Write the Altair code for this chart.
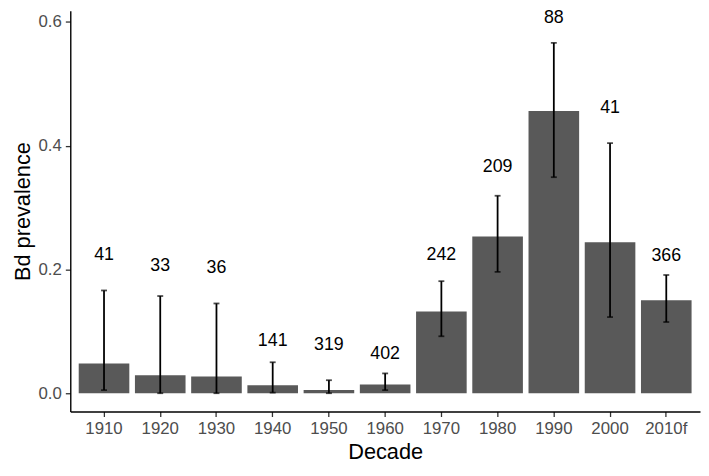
import altair as alt
import pandas as pd

decades = ["1910", "1920", "1930", "1940", "1950", "1960", "1970", "1980", "1990", "2000", "2010f"]
prevalence = [0.048, 0.029, 0.027, 0.013, 0.005, 0.014, 0.132, 0.253, 0.456, 0.244, 0.150]
ci_lower = [0.005, 0.0, 0.0, 0.001, 0.0, 0.005, 0.092, 0.196, 0.349, 0.123, 0.115]
ci_upper = [0.166, 0.157, 0.145, 0.050, 0.021, 0.032, 0.181, 0.319, 0.566, 0.404, 0.191]
n_samples = [41, 33, 36, 141, 319, 402, 242, 209, 88, 41, 366]
label_y = [0.2225, 0.205, 0.2025, 0.084, 0.077, 0.064, 0.2236, 0.366, 0.606, 0.46, 0.221]

df = pd.DataFrame({
    "Decade": decades,
    "prev": prevalence,
    "lo": ci_lower,
    "hi": ci_upper,
    "n": n_samples,
    "ly": label_y,
})

FONT = "Liberation Sans"

x = alt.X(
    "Decade:N",
    sort=decades,
    title="Decade",
    scale=alt.Scale(paddingInner=0.1, paddingOuter=0.15),
    axis=alt.Axis(
        labelAngle=0, labelFontSize=17, labelColor="#4d4d4d", labelFont=FONT,
        labelPadding=4, tickSize=5, tickColor="#333333", tickWidth=1.3,
        domainColor="#000000", domainWidth=1.4,
        titleFontSize=22, titleFont=FONT, titleColor="#000000",
        titleFontWeight="normal", titlePadding=5,
    ),
)

yscale = alt.Scale(domain=[-0.0296, 0.618], nice=False, zero=False)
yaxis = alt.Axis(
    values=[0, 0.2, 0.4, 0.6], format=".1f", grid=False,
    labelFontSize=17, labelColor="#4d4d4d", labelFont=FONT, labelPadding=4,
    tickSize=5, tickColor="#333333", tickWidth=1.3,
    domainColor="#000000", domainWidth=1.4,
    titleFontSize=22, titleFont=FONT, titleColor="#000000",
    titleFontWeight="normal", titlePadding=4,
)

base = alt.Chart(df)

bars = base.mark_bar(color="#595959").encode(
    x=x,
    y=alt.Y("prev:Q", title="Bd prevalence", scale=yscale, axis=yaxis),
    y2=alt.datum(0),
)

rules = base.mark_rule(color="#000000", strokeWidth=1.8).encode(
    x=alt.X("Decade:N", sort=decades),
    y="lo:Q",
    y2="hi:Q",
)

cap_hi = base.mark_tick(color="#000000", thickness=1.8, size=6, orient="horizontal").encode(
    x=alt.X("Decade:N", sort=decades),
    y="hi:Q",
)
cap_lo = base.mark_tick(color="#000000", thickness=1.8, size=6, orient="horizontal").encode(
    x=alt.X("Decade:N", sort=decades),
    y="lo:Q",
)

labels = base.mark_text(font=FONT, fontSize=18, color="#000000", baseline="middle").encode(
    x=alt.X("Decade:N", sort=decades),
    y="ly:Q",
    text="n:Q",
)

chart = (
    alt.layer(bars, rules, cap_hi, cap_lo, labels)
    .properties(
        width=637,
        height=405.5,
        autosize=alt.AutoSizeParams(type="none"),
        padding={"left": 63, "top": 0, "right": 1, "bottom": 62.5},
        view=alt.ViewBackground(strokeWidth=0, strokeOpacity=0),
    )
    .configure_view(strokeWidth=0, strokeOpacity=0)
    .configure(background="#ffffff")
)

chart.save("out.html", embed_options={"renderer": "svg", "actions": False})
